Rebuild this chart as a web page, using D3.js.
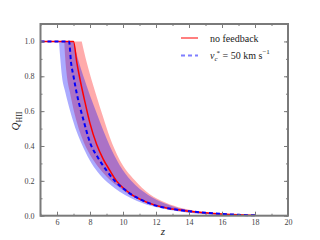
<!DOCTYPE html>
<html>
<head>
<meta charset="utf-8">
<script src="https://cdn.jsdelivr.net/npm/d3@7"></script>
<style>
  body { margin: 0; background: #fff; }
  svg { display: block; }
  text { font-family: "Liberation Serif", "DejaVu Serif", serif; }
</style>
</head>
<body>
<svg id="chart" width="320" height="240"></svg>
<script>
// median curves
var zRed = [5, 7.0, 7.2, 7.4, 7.7, 8.0, 8.4, 8.8, 9.2, 9.6, 10, 10.5, 11, 12, 13, 14, 15, 16, 17, 18];
var qRed = [1, 1, 0.88, 0.78, 0.65, 0.53, 0.41, 0.325, 0.26, 0.2, 0.16, 0.123, 0.096, 0.058, 0.038, 0.026, 0.017, 0.010, 0.005, 0.002];
var zBlue = [5, 6.73, 6.85, 7.0, 7.2, 7.4, 7.6, 8.0, 8.5, 9.0, 9.5, 10, 10.5, 11, 12, 13, 14, 15, 16, 17, 18];
var qBlue = [1, 1, 0.88, 0.8, 0.7, 0.62, 0.55, 0.42, 0.33, 0.26, 0.2, 0.157, 0.122, 0.096, 0.058, 0.038, 0.026, 0.017, 0.010, 0.005, 0.002];

// scatter bands (lower / upper edges)
var zRedLo = [6.44, 6.5, 6.6, 6.8, 7.0, 7.5, 8.0, 8.5, 9.0, 9.8, 10.5, 11.2, 12.2, 13.5, 15, 16.5, 17.5];
var qRedLo = [1, 0.9, 0.8, 0.7, 0.61, 0.45, 0.35, 0.28, 0.225, 0.16, 0.115, 0.085, 0.052, 0.026, 0.01, 0.003, 0];
var zRedHi = [7.5, 7.8, 8.35, 8.8, 9.2, 9.8, 10.7, 11.6, 12.6, 13.6, 14.6, 15.6, 16.6, 17.5];
var qRedHi = [1, 0.88, 0.70, 0.565, 0.45, 0.32, 0.205, 0.125, 0.075, 0.043, 0.024, 0.012, 0.005, 0];
var zBlueLo = [6.12, 6.2, 6.3, 6.5, 6.8, 7.2, 7.6, 8.1, 8.6, 9.2, 9.8, 10.5, 11.2, 12.2, 13.5, 15, 16.5, 17.5];
var qBlueLo = [1, 0.9, 0.8, 0.71, 0.6, 0.48, 0.39, 0.3, 0.235, 0.18, 0.138, 0.1, 0.072, 0.045, 0.022, 0.008, 0.002, 0];
var zBlueHi = [7.0, 7.3, 7.6, 8.0, 8.4, 8.8, 9.2, 9.8, 10.5, 11.5, 12.5, 13.5, 14.5, 15.5, 16.5, 17.5];
var qBlueHi = [1, 0.89, 0.8, 0.69, 0.59, 0.49, 0.40, 0.29, 0.2, 0.12, 0.072, 0.042, 0.024, 0.012, 0.005, 0];

var xMajor = [6, 8, 10, 12, 14, 16, 18, 20];
var yMajor = [0.0, 0.2, 0.4, 0.6, 0.8, 1.0];

var svg = d3.select("#chart");
var mLeft = 40.5, mRight = 288, mTop = 24, mBottom = 215.7;

var x = d3.scaleLinear().domain([5, 20]).range([mLeft, mRight]);
var y = d3.scaleLinear().domain([0, 1.1]).range([mBottom, mTop]);

function pts(zs, qs) { return zs.map(function (z, i) { return [z, qs[i]]; }); }

var line = d3.line()
  .x(function (d) { return x(d[0]); })
  .y(function (d) { return y(d[1]); })
  .curve(d3.curveMonotoneX);

function band(zLo, qLo, zHi, qHi) {
  // lower edge left to right, then upper edge back, closed along Q = 1
  var lo = line(pts(zLo, qLo));
  var hi = line(pts(zHi, qHi).reverse());
  return lo + hi.replace(/^M/, "L") + "Z";
}

var plot = svg.append("g");

plot.append("path")
  .attr("d", band(zRedLo, qRedLo, zRedHi, qRedHi))
  .attr("fill", "#ff0000")
  .attr("fill-opacity", 0.33);

plot.append("path")
  .attr("d", band(zBlueLo, qBlueLo, zBlueHi, qBlueHi))
  .attr("fill", "#0000ff")
  .attr("fill-opacity", 0.33);

plot.append("path")
  .attr("d", line(pts(zRed, qRed)))
  .attr("fill", "none")
  .attr("stroke", "#ff0000")
  .attr("stroke-width", 1.5);

plot.append("path")
  .attr("d", line(pts(zBlue, qBlue)))
  .attr("fill", "none")
  .attr("stroke", "#0000ff")
  .attr("stroke-width", 2)
  .attr("stroke-dasharray", "4,3");

// axes, ticks pointing inward on all four sides
var tickColor = "#7a7a7a";
var xMinor = d3.range(5, 21, 1);
var yMinor = d3.range(0, 1.11, 0.1);

function styleAxis(g) {
  g.select(".domain").remove();
  g.selectAll("line").attr("stroke", tickColor);
  g.selectAll("text")
    .attr("fill", "#444")
    .style("font-family", "'Liberation Serif', serif")
    .style("font-size", "8px");
}

svg.append("g").attr("transform", "translate(0," + mBottom + ")")
  .call(d3.axisBottom(x).tickValues(xMajor).tickSizeInner(-4).tickSizeOuter(0).tickPadding(4).tickFormat(d3.format("d")))
  .call(styleAxis);
svg.append("g").attr("transform", "translate(0," + mBottom + ")")
  .call(d3.axisBottom(x).tickValues(xMinor).tickSizeInner(-2).tickSizeOuter(0).tickFormat(""))
  .call(styleAxis);
svg.append("g").attr("transform", "translate(0," + mTop + ")")
  .call(d3.axisTop(x).tickValues(xMajor).tickSizeInner(-4).tickSizeOuter(0).tickFormat(""))
  .call(styleAxis);
svg.append("g").attr("transform", "translate(0," + mTop + ")")
  .call(d3.axisTop(x).tickValues(xMinor).tickSizeInner(-2).tickSizeOuter(0).tickFormat(""))
  .call(styleAxis);

svg.append("g").attr("transform", "translate(" + mLeft + ",0)")
  .call(d3.axisLeft(y).tickValues(yMajor).tickSizeInner(-4).tickSizeOuter(0).tickPadding(6).tickFormat(d3.format(".1f")))
  .call(styleAxis);
svg.append("g").attr("transform", "translate(" + mLeft + ",0)")
  .call(d3.axisLeft(y).tickValues(yMinor).tickSizeInner(-2).tickSizeOuter(0).tickFormat(""))
  .call(styleAxis);
svg.append("g").attr("transform", "translate(" + mRight + ",0)")
  .call(d3.axisRight(y).tickValues(yMajor).tickSizeInner(-4).tickSizeOuter(0).tickFormat(""))
  .call(styleAxis);
svg.append("g").attr("transform", "translate(" + mRight + ",0)")
  .call(d3.axisRight(y).tickValues(yMinor).tickSizeInner(-2).tickSizeOuter(0).tickFormat(""))
  .call(styleAxis);

// frame
svg.append("rect")
  .attr("x", mLeft).attr("y", mTop)
  .attr("width", mRight - mLeft).attr("height", mBottom - mTop)
  .attr("fill", "none")
  .attr("stroke", tickColor)
  .attr("stroke-width", 2);

// axis labels
svg.append("text")
  .attr("x", 163).attr("y", 235)
  .attr("text-anchor", "middle")
  .style("font-size", "11px")
  .style("font-style", "italic")
  .attr("fill", "#222")
  .text("z");

var yl = svg.append("text")
  .attr("transform", "translate(19,121) rotate(-90)")
  .attr("text-anchor", "middle")
  .style("font-size", "11px")
  .attr("fill", "#222");
yl.append("tspan").style("font-style", "italic").text("Q");
yl.append("tspan").attr("dy", 3).style("font-size", "8px").text("HII");

// legend
var legend = svg.append("g");
legend.append("line")
  .attr("x1", 181).attr("x2", 198).attr("y1", 38).attr("y2", 38)
  .attr("stroke", "#ff7f7f").attr("stroke-width", 2);
legend.append("text")
  .attr("x", 210).attr("y", 41.5)
  .style("font-size", "10px").attr("fill", "#222")
  .text("no feedback");
legend.append("line")
  .attr("x1", 181).attr("x2", 198).attr("y1", 55.5).attr("y2", 55.5)
  .attr("stroke", "#7f7fff").attr("stroke-width", 2)
  .attr("stroke-dasharray", "4,3");
var lt = legend.append("text")
  .attr("x", 210).attr("y", 58.5)
  .style("font-size", "10px").attr("fill", "#222");
lt.append("tspan").style("font-style", "italic").text("v");
lt.append("tspan").attr("dy", 2).style("font-size", "7px").style("font-style", "italic").text("c");
lt.append("tspan").attr("dx", -1).attr("dy", -6).style("font-size", "7px").text("*");
lt.append("tspan").attr("dy", 4).text(" = 50 km s");
lt.append("tspan").attr("dy", -5).style("font-size", "7px").text("\u22121");
</script>
</body>
</html>
